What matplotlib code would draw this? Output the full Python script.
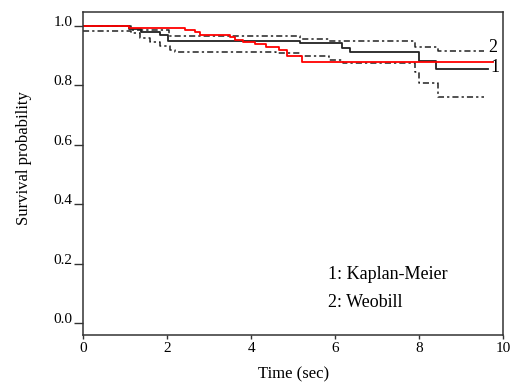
import matplotlib
matplotlib.use("Agg")
import matplotlib.pyplot as plt

plt.rcParams['font.family'] = ['Liberation Serif', 'DejaVu Serif']

# Kaplan-Meier estimate (solid) with its lower band (dash-dot)
km_t = [0, 1.1, 1.38, 1.82, 2.02, 5.17, 6.16, 6.36, 8.0, 8.4, 9.65]
km_s = [1.0, 0.99, 0.98, 0.969, 0.95, 0.941, 0.924, 0.913, 0.881, 0.856, 0.856]

low_t = [0, 1.15, 1.36, 1.6, 1.84, 2.08, 2.2, 4.6, 5.17, 5.85, 6.2, 7.9, 8.0, 8.44, 9.55]
low_s = [0.983, 0.974, 0.958, 0.946, 0.932, 0.918, 0.913, 0.908, 0.897, 0.886, 0.875,
         0.843, 0.806, 0.761, 0.761]

# upper curve (label 2)
up_t = [0, 1.15, 2.05, 5.17, 5.85, 7.9, 8.44, 9.55]
up_s = [1.0, 0.985, 0.967, 0.955, 0.95, 0.928, 0.914, 0.914]

# red curve
red_t = [0, 1.1, 2.42, 2.66, 2.78, 3.49, 3.61, 3.8, 4.1, 4.35, 4.67, 4.86, 5.22, 9.75]
red_s = [1.0, 0.991, 0.985, 0.978, 0.969, 0.961, 0.952, 0.946, 0.939, 0.93, 0.918,
         0.898, 0.879, 0.879]

xticks = [0, 2, 4, 6, 8, 10]
yticks = [0.0, 0.2, 0.4, 0.6, 0.8, 1.0]
ytick_labels = ['0.0', '0.2', '0.4', '0.6', '0.8', '1.0']

fig = plt.figure(figsize=(5.16, 3.88), dpi=100)
ax = fig.add_axes([0.161, 0.137, 0.814, 0.832])

dash = (0, (4, 2, 1.5, 2))
ax.step(up_t, up_s, where='post', color='#222222', lw=1.1, ls=dash)
ax.step(low_t, low_s, where='post', color='#222222', lw=1.1, ls=dash)
ax.step(km_t, km_s, where='post', color='#222222', lw=1.3)
ax.step(red_t, red_s, where='post', color='#ff0000', lw=1.3)

ax.text(9.75, 0.928, '2', fontsize=13, ha='center', va='center')
ax.text(9.8, 0.861, '1', fontsize=13, ha='center', va='center')

ax.text(5.84, 0.162, '1: Kaplan-Meier', fontsize=13, ha='left', va='center')
ax.text(5.84, 0.068, '2: Weobill', fontsize=13, ha='left', va='center')

ax.set_xlim(0, 10)
ax.set_ylim(-0.04, 1.046)
ax.set_xticks(xticks)
ax.set_yticks(yticks)
ax.set_yticklabels(ytick_labels)
for lab in ax.get_yticklabels():
    lab.set_verticalalignment('baseline')

ax.tick_params(axis='y', direction='out', length=6.5, width=1.0, labelsize=11, pad=1,
               color='#333333')
ax.tick_params(axis='x', direction='out', length=3, width=1.0, labelsize=11, pad=2,
               color='#333333')
for sp in ax.spines.values():
    sp.set_color('#333333')
    sp.set_linewidth(1.1)

ax.set_xlabel('Time (sec)', fontsize=12, labelpad=8)
ax.set_ylabel('Survival probability', fontsize=12)
ax.yaxis.set_label_coords(-0.122, 0.548)

fig.savefig('out.png', dpi=100)
